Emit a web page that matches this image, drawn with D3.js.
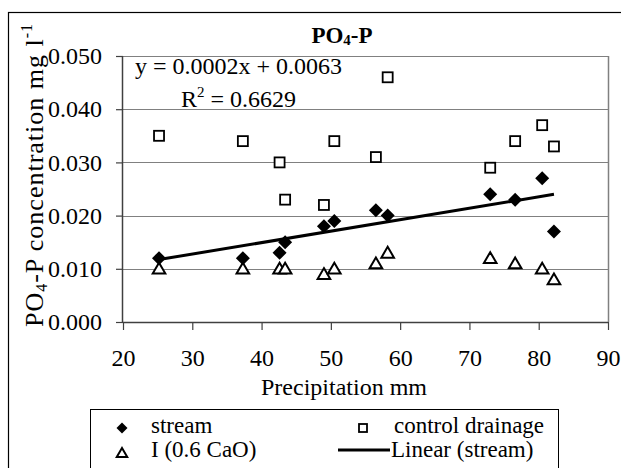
<!DOCTYPE html>
<html>
  <head>
    <meta charset="utf-8">
    <title>PO4-P</title>
    <script src="https://cdn.jsdelivr.net/npm/d3@7/dist/d3.min.js"></script>
    <style>
      body { margin: 0; background: #fff; }
      text { font-family: "Liberation Serif", "Times New Roman", serif; fill: #000; }
    </style>
  </head>
  <body>
    <svg width="621" height="468"></svg>
    <script>
      // precipitation (mm) for each sampling date
      var precip = [25.2, 37.3, 42.6, 43.4, 49.0, 50.5, 56.5, 58.2, 73.0, 76.6, 80.5, 82.2];
      // PO4-P concentrations, mg/l
      var stream = [0.012, 0.012, 0.013, 0.015, 0.018, 0.019, 0.021, 0.020, 0.024, 0.023, 0.027, 0.017];
      var control = [0.035, 0.034, 0.030, 0.023, 0.022, 0.034, 0.031, 0.046, 0.029, 0.034, 0.037, 0.033];
      var lime = [0.010, 0.010, 0.010, 0.010, 0.009, 0.010, 0.011, 0.013, 0.012, 0.011, 0.010, 0.008];
      var xTicks = [20, 30, 40, 50, 60, 70, 80, 90];
      var yTicks = [0, 0.01, 0.02, 0.03, 0.04, 0.05];

      var svg = d3.select('svg');
      var pL = 123, pR = 608, pT = 56, pB = 322;
      var x = d3.scaleLinear().domain([20, 90]).range([pL, pR]);
      var y = d3.scaleLinear().domain([0, 0.05]).range([pB, pT]);

      // outer chart frame (runs off the picture on right and bottom)
      svg.append('rect').attr('x', 8.5).attr('y', 12.5).attr('width', 700).attr('height', 600)
        .attr('fill', 'none').attr('stroke', '#000').attr('stroke-width', 1.2);

      // gridlines
      svg.append('g').selectAll('line').data(yTicks.slice(1)).enter().append('line')
        .attr('x1', pL).attr('x2', pR)
        .attr('y1', function(d){ return Math.round(y(d)) + 0.5; })
        .attr('y2', function(d){ return Math.round(y(d)) + 0.5; })
        .attr('stroke', '#808080').attr('stroke-width', 1.2);
      // right border
      svg.append('line').attr('x1', pR + 0.5).attr('x2', pR + 0.5).attr('y1', pT).attr('y2', pB)
        .attr('stroke', '#808080').attr('stroke-width', 1.5);

      var yAxis = svg.append('g').attr('transform', 'translate(' + pL + ',0)')
        .call(d3.axisLeft(y).tickValues(yTicks).tickFormat(d3.format('.3f')).tickSize(7).tickPadding(14));
      var xAxis = svg.append('g').attr('transform', 'translate(0,' + pB + ')')
        .call(d3.axisBottom(x).tickValues(xTicks).tickSize(8).tickPadding(19));
      [yAxis, xAxis].forEach(function(a){
        a.attr('font-family', null).attr('font-size', null);
        a.select('.domain').attr('stroke', '#404040').attr('stroke-width', 1.5);
        a.selectAll('.tick line').attr('stroke', '#404040').attr('stroke-width', 1.2);
        a.selectAll('text').style('font-size', '24px');
      });
      xAxis.select('.domain').attr('d', 'M' + pL + ',0.5H' + pR);
      yAxis.select('.domain').attr('d', 'M-0.5,' + pT + 'V' + pB);

      // linear trend for stream
      var mx = d3.mean(precip), my = d3.mean(stream);
      var sxy = d3.sum(precip, function(v, i){ return (v - mx) * (stream[i] - my); });
      var sxx = d3.sum(precip, function(v){ return (v - mx) * (v - mx); });
      var slope = sxy / sxx, icpt = my - slope * mx;
      var x0 = d3.min(precip), x1 = d3.max(precip);
      svg.append('line')
        .attr('x1', x(x0)).attr('y1', y(icpt + slope * x0))
        .attr('x2', x(x1)).attr('y2', y(icpt + slope * x1))
        .attr('stroke', '#000').attr('stroke-width', 3);

      function diamond(g, cx, cy, r) {
        g.append('path').attr('d', 'M' + cx + ',' + (cy - r) + 'L' + (cx + r) + ',' + cy + 'L' + cx + ',' + (cy + r) + 'L' + (cx - r) + ',' + cy + 'Z')
          .attr('fill', '#000');
      }
      function square(g, cx, cy, r) {
        g.append('rect').attr('x', cx - r).attr('y', cy - r).attr('width', 2 * r).attr('height', 2 * r)
          .attr('fill', '#fff').attr('stroke', '#000').attr('stroke-width', 1.8);
      }
      function triangle(g, cx, cy, r) {
        g.append('path').attr('d', 'M' + cx + ',' + (cy - r) + 'L' + (cx + r * 1.05) + ',' + (cy + r * 0.8) + 'L' + (cx - r * 1.05) + ',' + (cy + r * 0.8) + 'Z')
          .attr('fill', '#fff').attr('stroke', '#000').attr('stroke-width', 2).attr('stroke-linejoin', 'miter');
      }

      var marks = svg.append('g');
      precip.forEach(function(p, i){ square(marks, x(p), y(control[i]), 5); });
      precip.forEach(function(p, i){ triangle(marks, x(p), y(lime[i]), 6); });
      precip.forEach(function(p, i){ diamond(marks, x(p), y(stream[i]), 7); });

      // title
      var t = svg.append('text').attr('x', 342).attr('y', 43).attr('text-anchor', 'middle')
        .style('font-size', '23px').style('font-weight', 'bold');
      t.append('tspan').text('PO');
      t.append('tspan').text('4').style('font-size', '15px').attr('dy', 2);
      t.append('tspan').text('-P').attr('dy', -2);

      // regression label
      svg.append('text').attr('x', 135).attr('y', 74).style('font-size', '24px')
        .text('y = 0.0002x + 0.0063');
      var r2 = svg.append('text').attr('x', 181).attr('y', 107).style('font-size', '24px');
      r2.append('tspan').text('R');
      r2.append('tspan').text('2').style('font-size', '15px').attr('dy', -10);
      r2.append('tspan').text(' = 0.6629').attr('dy', 10);

      // axis titles
      svg.append('text').attr('x', 344).attr('y', 395).attr('text-anchor', 'middle')
        .style('font-size', '24px').text('Precipitation mm');
      var yt = svg.append('text').attr('transform', 'translate(43,175) rotate(-90)')
        .attr('text-anchor', 'middle').style('font-size', '26px').style('letter-spacing', '1px');
      yt.append('tspan').text('PO');
      yt.append('tspan').text('4').style('font-size', '16px').attr('dy', 4);
      yt.append('tspan').text('-P concentration mg l').attr('dy', -4);
      yt.append('tspan').text('-1').style('font-size', '16px').attr('dy', -11);

      // legend
      var lg = svg.append('g');
      lg.append('rect').attr('x', 90.5).attr('y', 409.5).attr('width', 468).attr('height', 100)
        .attr('fill', '#fff').attr('stroke', '#000').attr('stroke-width', 1);
      diamond(lg, 122, 428, 5.5);
      triangle(lg, 122, 453, 5);
      square(lg, 363, 428, 4);
      lg.append('line').attr('x1', 338).attr('x2', 390).attr('y1', 450).attr('y2', 450)
        .attr('stroke', '#000').attr('stroke-width', 3);
      var items = [['stream', 151, 433], ['I (0.6 CaO)', 151, 457], ['control drainage', 394, 433], ['Linear (stream)', 391, 457]];
      items.forEach(function(d){
        lg.append('text').attr('x', d[1]).attr('y', d[2]).style('font-size', '23px').text(d[0]);
      });
    </script>
  </body>
</html>
